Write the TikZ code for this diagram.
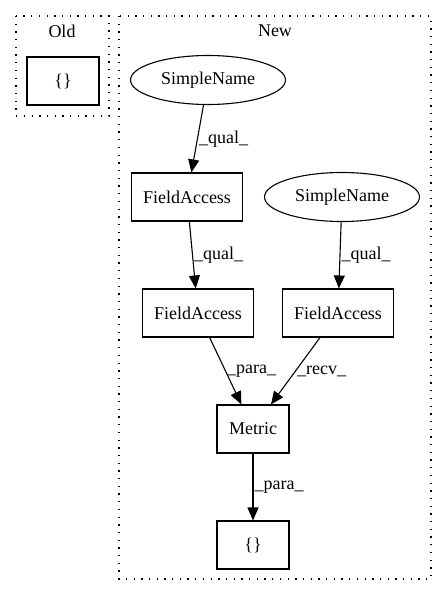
\documentclass[tikz,border=0pt]{standalone}
\usepackage{fontspec}
\setmainfont{Liberation Serif}
\usetikzlibrary{shapes.geometric, arrows.meta}

\begin{document}
\begin{tikzpicture}[x=1pt, y=-1pt, font=\fontsize{18}{21}\selectfont,
                            box/.style={rectangle, draw, line width=1.1pt, minimum width=72pt, minimum height=48pt, inner xsep=11.5pt},
                            oval/.style={ellipse, draw, line width=1.1pt, minimum width=155pt, minimum height=49pt, inner sep=0pt},
                            cluster/.style={draw, line width=1.3pt, dash pattern=on 1.3pt off 6.4pt},
                            arr/.style={line width=1.1pt, -{Triangle[length=13pt, width=11pt]}},
                            lbl/.style={midway, right, inner sep=1pt}]
                            \useasboundingbox (0, 0) rectangle (447, 596);

                            \draw[cluster] (16, 16) rectangle (109, 116);
                            \draw[cluster] (119, 16) rectangle (431, 579);
                            \node (old) at (62, 31) {Old};
                            \node (new) at (275, 31) {New};

                            \node (oldblock)[box] at (63, 81) {\{\}};
                            \node (sn1)[oval] at (208, 80) {SimpleName};
                            \node (fa1)[box] at (187, 197) {FieldAccess};
                            \node (sn2)[oval] at (342, 197) {SimpleName};
                            \node (fa3)[box] at (198, 313) {FieldAccess};
                            \node (fa2)[box] at (338, 313) {FieldAccess};
                            \node (metric)[box] at (253, 429) {Metric};
                            \node (block)[box] at (253, 545) {\{\}};

                            \draw (sn1) edge[arr] node[lbl] {\_qual\_} (fa1);
                            \draw (fa1) edge[arr] node[lbl] {\_qual\_} (fa3);
                            \draw (sn2) edge[arr] node[lbl] {\_qual\_} (fa2);
                            \draw (fa3) edge[arr] node[lbl] {\_para\_} (metric);
                            \draw (fa2) edge[arr] node[lbl] {\_recv\_} (metric);
                            \draw (metric) edge[arr] node[lbl] {\_para\_} (block);

                        \end{tikzpicture}
\end{document}
